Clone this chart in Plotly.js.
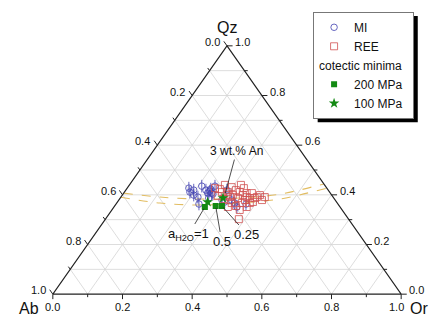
<!DOCTYPE html>
<html>
<head>
<meta charset="utf-8">
<script src="https://cdn.plot.ly/plotly-3.0.1.min.js"></script>
<style>body{margin:0;background:#fff;} #tern{width:446px;height:327px;}</style>
</head>
<body>
<div id="tern"></div>
<script>
// ternary Qz - Ab - Or, only Qz and Or are stored (Ab = 1 - Qz - Or)
var miQz = [0.427, 0.411, 0.399, 0.391, 0.435, 0.407, 0.415, 0.407, 0.387, 0.403, 0.363,
            0.435, 0.371, 0.379, 0.367, 0.351, 0.363, 0.419, 0.379, 0.419, 0.419, 0.423];
var miOr = [0.177, 0.188, 0.205, 0.221, 0.210, 0.241, 0.243, 0.253, 0.254, 0.258, 0.238,
            0.248, 0.308, 0.324, 0.339, 0.353, 0.373, 0.290, 0.296, 0.195, 0.230, 0.242];

var reeQz = [0.427, 0.423, 0.440, 0.411, 0.431, 0.419, 0.411, 0.399, 0.391, 0.387, 0.387, 0.391,
             0.391, 0.367, 0.355, 0.367, 0.351, 0.367, 0.339, 0.302, 0.399, 0.399, 0.379, 0.387,
             0.407, 0.371, 0.379, 0.407, 0.351, 0.395, 0.427, 0.399, 0.440, 0.383, 0.391, 0.411];
var reeOr = [0.252, 0.268, 0.274, 0.297, 0.298, 0.316, 0.331, 0.346, 0.361, 0.372, 0.386, 0.390,
             0.313, 0.330, 0.348, 0.359, 0.381, 0.382, 0.367, 0.383, 0.300, 0.317, 0.362, 0.338,
             0.353, 0.389, 0.411, 0.368, 0.327, 0.276, 0.335, 0.395, 0.320, 0.299, 0.413, 0.280];

// cotectic minima, a(H2O) = 1, 0.5, 0.25
var min200Qz = [0.351, 0.355, 0.355];
var min200Or = [0.261, 0.290, 0.308];
var min100Qz = [0.371, 0.387];
var min100Or = [0.259, 0.295];

// dashed cotectic curves
var cotUpQz = [0.407, 0.391, 0.383, 0.387, 0.403, 0.444];
var cotUpOr = [0.000, 0.112, 0.231, 0.344, 0.451, 0.556];
var cotLoQz = [0.390, 0.367, 0.359, 0.367, 0.383, 0.427];
var cotLoOr = [0.000, 0.124, 0.243, 0.354, 0.460, 0.573];

var gridVals = [0.1, 0.2, 0.3, 0.4, 0.5, 0.6, 0.7, 0.8, 0.9];
var tickVals = [0, 0.1, 0.2, 0.3, 0.4, 0.5, 0.6, 0.7, 0.8, 0.9, 1];
var labelVals = [0, 0.2, 0.4, 0.6, 0.8, 1];

// ternary -> plane
function tx(qz, or) { return or + qz / 2; }
function toX(qz, or) { return qz.map((q, i) => tx(q, or[i])); }

// grid lines
var gx = [], gy = [];
gridVals.forEach(v => {
  gx.push(tx(v, 0), tx(v, 1 - v), null); gy.push(v, v, null);         // Qz = v
  gx.push(tx(0, v), tx(1 - v, v), null); gy.push(0, 1 - v, null);     // Or = v
  gx.push(tx(0, 1 - v), tx(1 - v, 0), null); gy.push(0, 1 - v, null); // Ab = v
});

// ticks
var kx = [], ky = [];
tickVals.forEach((v, i) => {
  var s = (i % 2 == 0) ? 1 : 0.6;
  // right edge (Qz)
  kx.push(tx(v, 1 - v), tx(v, 1 - v) + 0.016 * s, null); ky.push(v, v, null);
  // left edge (Ab)
  kx.push(tx(1 - v, 0), tx(1 - v, 0) - 0.009 * s, null); ky.push(1 - v, 1 - v + 0.018 * s, null);
  // bottom (Or)
  kx.push(v, v, null); ky.push(0, -0.02 * s, null);
});

var lblFont = {family: 'Liberation Sans, Arial', size: 11, color: '#111'};
var annots = [];
labelVals.forEach(v => {
  var t = v.toFixed(1);
  annots.push({x: v, y: 0, text: t, showarrow: false, xanchor: 'center', yanchor: 'top', yshift: -5,
               xshift: (v == 1 ? -5 : 0), font: lblFont});
  annots.push({x: tx(v, 1 - v), y: v, text: t, showarrow: false, xanchor: 'left', yanchor: 'middle', xshift: 6, yshift: 4, font: lblFont});
  annots.push({x: tx(1 - v, 0), y: 1 - v, text: t, showarrow: false, xanchor: 'right', yanchor: 'middle', xshift: -5, yshift: 4, font: lblFont});
});

var vtxFont = {family: 'Liberation Sans, Arial', size: 16, color: '#111'};
annots.push({x: 0.5, y: 1.073, text: 'Qz', showarrow: false, font: vtxFont});
annots.push({x: -0.069, y: -0.056, text: 'Ab', showarrow: false, font: vtxFont});
annots.push({x: 1.05, y: -0.056, text: 'Or', showarrow: false, font: vtxFont});

var noteFont = {family: 'Liberation Sans, Arial', size: 13, color: '#111'};
var pin = {showarrow: true, arrowhead: 0, arrowwidth: 0.8, arrowcolor: '#222', standoff: 2, font: noteFont};
annots.push(Object.assign({}, pin, {x: tx(0.399, 0.294), y: 0.399, text: '3 wt.% An', ax: 12, ay: -44, font: {family: 'Liberation Sans, Arial', size: 12, color: '#111'}}));
annots.push(Object.assign({}, pin, {x: tx(min200Qz[0], min200Or[0]), y: min200Qz[0], text: 'a<sub>H2O</sub>=1', ax: -16, ay: 27}));
annots.push(Object.assign({}, pin, {x: tx(min200Qz[1], min200Or[1]), y: min200Qz[1], text: '0.5', ax: 6, ay: 35}));
annots.push(Object.assign({}, pin, {x: tx(min200Qz[2], min200Or[2]), y: min200Qz[2], text: '0.25', ax: 25, ay: 28}));

var data = [
  {x: gx, y: gy, mode: 'lines', line: {color: '#d4d4d4', width: 0.8}, hoverinfo: 'skip', showlegend: false},
  {x: toX(cotUpQz, cotUpOr), y: cotUpQz, mode: 'lines', line: {color: '#e2bd62', width: 1.1, dash: 'dash', shape: 'spline'}, hoverinfo: 'skip', showlegend: false},
  {x: toX(cotLoQz, cotLoOr), y: cotLoQz, mode: 'lines', line: {color: '#e2bd62', width: 1.1, dash: 'dash', shape: 'spline'}, hoverinfo: 'skip', showlegend: false},
  {x: [0, 1, 0.5, 0], y: [0, 0, 1, 0], mode: 'lines', line: {color: '#222', width: 1.1}, hoverinfo: 'skip', showlegend: false},
  {x: kx, y: ky, mode: 'lines', line: {color: '#222', width: 1}, hoverinfo: 'skip', showlegend: false},
  {x: toX(miQz, miOr), y: miQz, mode: 'markers', name: 'MI', legendgroup: 'mi',
   marker: {symbol: 'circle-open', size: 6.5, color: '#4040b0', line: {width: 0.8}}},
  {x: toX(miQz, miOr), y: miQz, mode: 'markers', name: 'MI', legendgroup: 'mi', showlegend: false,
   marker: {symbol: 'line-ns-open', size: 9, color: '#4040b0', line: {width: 0.8}}},
  {x: toX(reeQz, reeOr), y: reeQz, mode: 'markers', name: 'REE', legendgroup: 'ree',
   marker: {symbol: 'square-open', size: 7, color: '#d05050', line: {width: 0.8}}},
  {x: toX(min200Qz, min200Or), y: min200Qz, mode: 'markers', name: '200 MPa', legendgroup: 'cot',
   legendgrouptitle: {text: 'cotectic minima', font: {family: 'Liberation Sans, Arial', size: 12, color: '#111'}},
   marker: {symbol: 'square', size: 6, color: '#138a13'}},
  {x: toX(min100Qz, min100Or), y: min100Qz, mode: 'markers', name: '100 MPa', legendgroup: 'cot',
   marker: {symbol: 'star', size: 8, color: '#138a13'}}
];

// paper spans x 18.2..435.8 px, y 21.2..318.8 px
function px2paperX(p) { return (p - 18.2) / 417.6; }
function px2paperY(p) { return (318.8 - p) / 297.6; }

var layout = {
  width: 446, height: 327,
  margin: {l: 18.2, r: 10.2, t: 21.2, b: 8.2, autoexpand: false},
  paper_bgcolor: '#fff', plot_bgcolor: 'rgba(0,0,0,0)',
  xaxis: {range: [-0.1, 1.1], visible: false, fixedrange: true},
  yaxis: {range: [-0.1, 1.1], visible: false, fixedrange: true},
  showlegend: true,
  legend: {x: px2paperX(313), y: px2paperY(12), xanchor: 'left', yanchor: 'top', bgcolor: '#fff',
           bordercolor: '#777', borderwidth: 1, tracegroupgap: 0, traceorder: 'grouped',
           font: {family: 'Liberation Sans, Arial', size: 12, color: '#111'}},
  annotations: annots,
  font: {family: 'Liberation Sans, Arial'}
};

Plotly.newPlot('tern', data, layout, {displayModeBar: false, staticPlot: true}).then(gd => {
  // drop shadow behind the legend box, offset 4 px right and down
  var bg = gd.querySelector('.legend .bg');
  if (!bg) return;
  var r = bg.getBoundingClientRect();
  var box = gd.getBoundingClientRect();
  var x0 = r.left - box.left, y0 = r.top - box.top;
  return Plotly.relayout(gd, {shapes: [{type: 'rect', xref: 'paper', yref: 'paper', layer: 'above',
    x0: px2paperX(x0 + 4), x1: px2paperX(x0 + r.width + 4),
    y0: px2paperY(y0 + 4), y1: px2paperY(y0 + r.height + 4),
    fillcolor: '#000', line: {width: 0}}]});
});
</script>
</body>
</html>
